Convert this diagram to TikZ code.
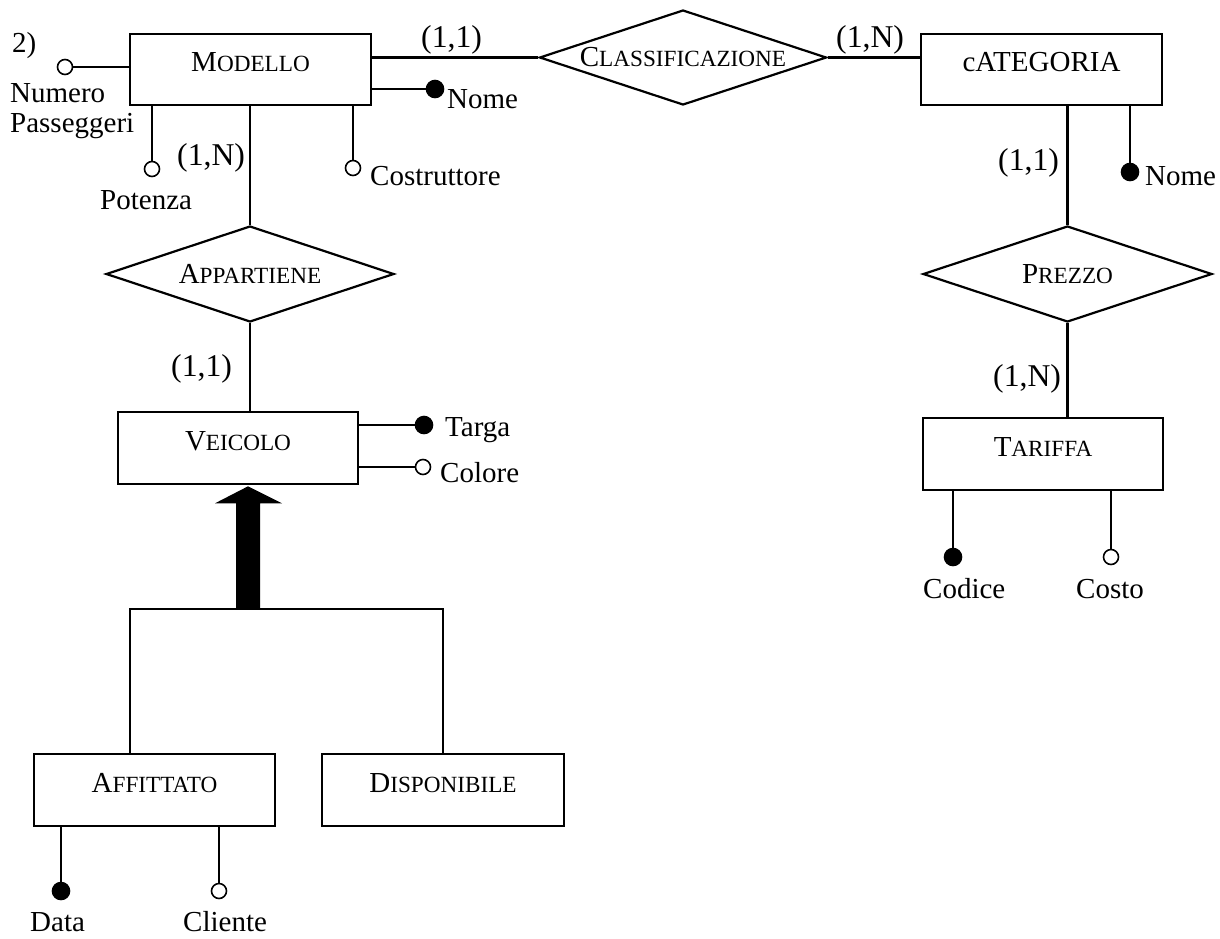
\documentclass[tikz,border=0pt]{standalone}
\usepackage{fontspec}
\setmainfont{Liberation Serif}
\usetikzlibrary{shapes.geometric,calc}
\newcommand\attrsize{\fontsize{29}{30}\selectfont}
\newcommand\cardsize{\fontsize{31.7}{34}\selectfont}
\newcommand\smallcapsize{\fontsize{23.2}{24}\selectfont}
\newcommand\fakesc[2]{#1{\smallcapsize #2}}
\begin{document}
\begin{tikzpicture}[x=1pt,y=-1pt,
  entity/.style={draw,line width=2.6pt,rectangle,inner sep=0pt,text height=4pt,text depth=0pt,font=\attrsize},
  rel/.style={draw,line width=2.2pt,diamond,inner sep=0pt,aspect=3,font=\attrsize},
  conn/.style={line width=2.2pt},
  attrO/.style={circle,draw,line width=1.6pt,fill=white,minimum size=15pt,inner sep=0pt},
  attrK/.style={circle,draw,line width=1.6pt,fill=black,minimum size=17pt,inner sep=0pt},
  attrtxt/.style={anchor=base west,inner sep=0pt,font=\attrsize},
  cardtxt/.style={anchor=base west,inner sep=0pt,font=\cardsize}]
\useasboundingbox[fill=white] (0,0) rectangle (1220,938);

% entities
\node[entity,minimum width=241pt,minimum height=71pt] (modello) at (250.5,69.5) {\fakesc{M}{ODELLO}};
\node[entity,minimum width=241pt,minimum height=71pt] (categoria) at (1041.5,69.5) {cATEGORIA};
\node[entity,minimum width=240pt,minimum height=72pt] (veicolo) at (238,448) {\fakesc{V}{EICOLO}};
\node[entity,minimum width=240pt,minimum height=72pt] (tariffa) at (1043,454) {\fakesc{T}{ARIFFA}};
\node[entity,minimum width=241pt,minimum height=72pt] (affittato) at (154.5,790) {\fakesc{A}{FFITTATO}};
\node[entity,minimum width=242pt,minimum height=72pt] (disponibile) at (443,790) {\fakesc{D}{ISPONIBILE}};

% relationships
\node[rel,minimum width=287pt,minimum height=95pt] (classif) at (683,57.5) {\fakesc{C}{LASSIFICAZIONE}};
\node[rel,minimum width=288pt,minimum height=96pt] (appartiene) at (250,274) {\fakesc{A}{PPARTIENE}};
\node[rel,minimum width=289pt,minimum height=96pt] (prezzo) at (1067.5,274) {\fakesc{P}{REZZO}};

% connectors
\draw[conn] (modello.east |- classif.west) -- (classif.west);
\draw[conn] (classif.east) -- (classif.east -| categoria.west);
\draw[conn] (appartiene.north |- modello.south) -- (appartiene.north);
\draw[conn] (appartiene.south) -- (appartiene.south |- veicolo.north);
\draw[conn] (prezzo.north |- categoria.south) -- (prezzo.north);
\draw[conn] (prezzo.south) -- (prezzo.south |- tariffa.north);

% generalization
\coordinate (isa) at (248,609);
\coordinate (hl) at (130,609);
\draw[conn] (hl |- affittato.north) -- (hl) -- (hl -| disponibile.north) -- (disponibile.north);
\fill ($(isa)+(-12,0)$) -- ($(isa |- veicolo.south)+(-12,18)$) -- ($(isa |- veicolo.south)+(-33,18)$)
  -- ($(isa |- veicolo.south)+(0,1)$) -- ($(isa |- veicolo.south)+(34,18)$)
  -- ($(isa |- veicolo.south)+(12,18)$) -- ($(isa)+(12,0)$) -- cycle;

% attributes
\node[attrO] (np) at (65,67) {};
\draw[conn] (np) -- (np -| modello.west);
\node[attrtxt] (npt1) at (10,102) {Numero};
\node[attrtxt] (npt2) at (10,132) {Passeggeri};

\node[attrO] (pot) at (152,169) {};
\draw[conn] (pot |- modello.south) -- (pot);
\node[attrtxt] (pott) at (100,209) {Potenza};

\node[attrO] (cos) at (353,168) {};
\draw[conn] (cos |- modello.south) -- (cos);
\node[attrtxt] (cost) at (370,185) {Costruttore};

\node[attrK] (nomem) at (435,89) {};
\draw[conn] (nomem -| modello.east) -- (nomem);
\node[attrtxt] (nomemt) at (447,108) {Nome};

\node[attrK] (nomec) at (1130,172) {};
\draw[conn] (nomec |- categoria.south) -- (nomec);
\node[attrtxt] (nomect) at (1145,185) {Nome};

\node[attrK] (targa) at (424,425) {};
\draw[conn] (targa -| veicolo.east) -- (targa);
\node[attrtxt] (targat) at (445,436) {Targa};

\node[attrO] (colore) at (423,467) {};
\draw[conn] (colore -| veicolo.east) -- (colore);
\node[attrtxt] (coloret) at (440,482) {Colore};

\node[attrK] (codice) at (953,557) {};
\draw[conn] (codice |- tariffa.south) -- (codice);
\node[attrtxt] (codicet) at (923,598) {Codice};

\node[attrO] (costo) at (1111,557) {};
\draw[conn] (costo |- tariffa.south) -- (costo);
\node[attrtxt] (costot) at (1076,598) {Costo};

\node[attrK] (data) at (61,891) {};
\draw[conn] (data |- affittato.south) -- (data);
\node[attrtxt] (datat) at (30,931) {Data};

\node[attrO] (cliente) at (219,891) {};
\draw[conn] (cliente |- affittato.south) -- (cliente);
\node[attrtxt] (clientet) at (183,931) {Cliente};

% cardinalities
\node[attrtxt] (num) at (12,52) {2)};
\node[cardtxt] (c1) at (421,47) {(1,1)};
\node[cardtxt] (c2) at (836,47) {(1,N)};
\node[cardtxt] (c3) at (177,165) {(1,N)};
\node[cardtxt] (c4) at (998,170) {(1,1)};
\node[cardtxt] (c5) at (171,376) {(1,1)};
\node[cardtxt] (c6) at (993,386) {(1,N)};
\end{tikzpicture}
\end{document}
